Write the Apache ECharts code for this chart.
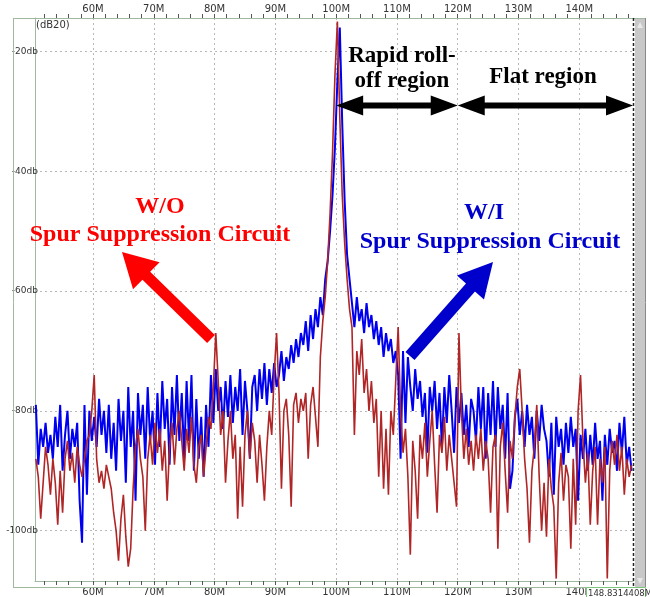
<!DOCTYPE html>
<html>
<head>
<meta charset="utf-8">
<script src="https://cdn.jsdelivr.net/npm/echarts@6/dist/echarts.min.js"></script>
<style>
  html, body { margin: 0; padding: 0; background: #fff; }
  #chart { width: 650px; height: 597px; }
</style>
</head>
<body>
<div id="chart"></div>
<script>
// spectrum bins, MHz (uniform FFT grid)
const freqStart = 50.6;
const freqStep = 0.4;

const xMin = 50.46;
const xMax = 148.83;
const yMin = -108.4;
const yMax = -14.4;

const majorTicks = [60, 70, 80, 90, 100, 110, 120, 130, 140];
const minorTicks = [52, 54, 56, 58, 60, 62, 64, 66, 68, 70, 72, 74, 76, 78, 80, 82, 84, 86, 88, 90,
  92, 94, 96, 98, 100, 102, 104, 106, 108, 110, 112, 114, 116, 118, 120, 122, 124, 126, 128, 130,
  132, 134, 136, 138, 140, 142, 144, 146, 148];
const yTicks = [-20, -40, -60, -80, -100];

// W/I spur suppression circuit (blue), dB
const withDb = [
  -79, -89, -83, -86, -82, -87, -84, -88, -81, -86,   // 50.6
  -79, -90, -84, -80, -88, -83, -86, -82, -95, -102,  // 54.6
  -79, -94, -80, -85, -81, -86, -78, -84, -80, -87,   // 58.6
  -79, -88, -82, -90, -78, -85, -80, -92, -76, -86,   // 62.6
  -80, -95, -77, -84, -79, -88, -76, -85, -80, -89,   // 66.6
  -77, -86, -75, -83, -78, -89, -76, -84, -74, -85,   // 70.6
  -77, -88, -75, -85, -74, -90, -78, -88, -81, -91,   // 74.6
  -79, -86, -74, -82, -73, -80, -76, -83, -75, -81,   // 78.6
  -74, -82, -76, -80, -73, -84, -75, -80, -88, -76,   // 82.6
  -74, -80, -73, -78, -72, -79, -73, -77, -72, -76,   // 86.6
  -74, -70, -75, -71, -73, -69, -72, -68, -71, -67,   // 90.6
  -69, -65, -70, -64, -68, -63, -66, -61, -64, -58,   // 94.6
  -55, -50, -44, -36, -25, -16, -32, -45, -54, -58,   // 98.6
  -62, -66, -61, -65, -63, -67, -62, -66, -64, -68,   // 102.6
  -65, -69, -66, -71, -67, -70, -68, -72, -70, -74,   // 106.6
  -88, -70, -82, -71, -76, -80, -73, -78, -75, -81,   // 110.6
  -77, -87, -76, -80, -75, -83, -77, -86, -76, -82,   // 114.6
  -74, -80, -87, -76, -82, -77, -84, -79, -86, -78,   // 118.6
  -80, -85, -76, -83, -76, -88, -77, -84, -75, -86,   // 122.6
  -76, -83, -79, -88, -77, -93, -90, -81, -78, -84,   // 126.6
  -80, -86, -79, -84, -81, -88, -80, -85, -79, -83,   // 130.6
  -85, -91, -82, -94, -81, -86, -83, -89, -82, -87,   // 134.6
  -81, -86, -83, -95, -84, -88, -83, -90, -84, -89,   // 138.6
  -82, -88, -85, -95, -84, -89, -83, -87, -85, -90,   // 142.6
  -82, -87, -81, -89, -86, -90                        // 146.6
];

// W/O spur suppression circuit (red), dB
const withoutDb = [
  -88, -91, -98, -92, -86, -89, -94, -88, -92, -99,   // 50.6
  -90, -97, -88, -85, -90, -87, -92, -86, -89, -91,   // 54.6
  -88, -85, -84, -80, -74, -88, -92, -90, -93, -89,   // 58.6
  -91, -93, -97, -100, -105, -98, -94, -101, -106, -103, // 62.6
  -93, -86, -83, -88, -91, -100, -88, -84, -89, -82,  // 66.6
  -87, -83, -90, -85, -95, -86, -82, -89, -83, -80,   // 70.6
  -85, -90, -83, -87, -81, -89, -92, -86, -84, -91,   // 74.6
  -86, -81, -83, -76, -67, -75, -84, -80, -92, -85,   // 78.6
  -80, -88, -84, -98, -86, -96, -84, -80, -88, -82,   // 82.6
  -85, -92, -84, -89, -95, -86, -80, -84, -74, -67,   // 86.6
  -77, -93, -80, -78, -84, -96, -79, -77, -82, -78,   // 90.6
  -80, -77, -88, -79, -76, -81, -86, -71, -65, -61,   // 94.6
  -55, -47, -37, -24, -15, -31, -44, -52, -58, -63,   // 98.6
  -66, -84, -70, -74, -68, -77, -73, -80, -75, -82,   // 102.6
  -78, -91, -80, -93, -83, -94, -80, -84, -75, -66,   // 106.6
  -80, -87, -83, -91, -104, -85, -90, -98, -84, -88,  // 110.6
  -82, -91, -85, -80, -89, -97, -84, -87, -81, -90,   // 114.6
  -84, -88, -92, -96, -67, -80, -88, -83, -89, -85,   // 118.6
  -90, -84, -88, -83, -90, -85, -88, -97, -86, -84,   // 122.6
  -103, -86, -82, -90, -97, -85, -88, -81, -76, -73,  // 126.6
  -80, -88, -93, -102, -90, -86, -79, -91, -100, -92, // 130.6
  -101, -88, -93, -96, -108, -92, -87, -95, -89, -91, // 134.6
  -103, -88, -99, -80, -74, -85, -92, -87, -99, -90,  // 138.6
  -86, -99, -88, -92, -86, -108, -90, -85, -89, -84,  // 142.6
  -90, -86, -94, -88, -91, -89                        // 146.6
];

const frameColor = '#9fb89f';
const gridColor = '#b8b8b8';
const labelFont = { fontSize: 10, color: '#333', fontFamily: 'DejaVu Sans' };

const freqs = withDb.map((_, i) => +(freqStart + i * freqStep).toFixed(1));

function pairs(values) {
  return values.map((v, i) => [freqs[i], v]);
}

function edgeAxis(position, margin) {
  return {
    type: 'value',
    position: position,
    min: xMin,
    max: xMax,
    axisLine: { show: true, lineStyle: { color: frameColor, width: 1 } },
    axisTick: { show: true, customValues: minorTicks, length: 4, lineStyle: { color: '#555' } },
    axisLabel: Object.assign({ customValues: majorTicks, margin: margin, formatter: (v) => v + 'M' }, labelFont),
    splitLine: { show: false },
  };
}

const chart = echarts.init(document.getElementById('chart'));

const option = {
  animation: false,
  backgroundColor: '#fff',
  grid: { left: 35, right: 17, top: 18, bottom: 10 },
  xAxis: [
    edgeAxis('bottom', 6),
    edgeAxis('top', 4),
    {
      // only carries the dotted vertical grid lines
      type: 'value',
      min: xMin,
      max: xMax,
      axisLine: { show: false },
      axisTick: { show: false, customValues: majorTicks },
      axisLabel: { show: false },
      splitLine: { show: true, lineStyle: { color: gridColor, type: [2, 3] } },
    },
  ],
  yAxis: {
    type: 'value',
    min: yMin,
    max: yMax,
    axisLine: { show: true, lineStyle: { color: frameColor } },
    axisTick: { show: false, customValues: yTicks },
    axisLabel: Object.assign({}, labelFont, {
      customValues: yTicks, margin: -3, fontSize: 9, formatter: (v) => v + 'db',
    }),
    splitLine: { show: true, lineStyle: { color: gridColor, type: [2, 3] } },
  },
  series: [
    {
      name: 'W/I',
      type: 'line',
      showSymbol: false,
      data: pairs(withDb),
      lineStyle: { color: '#0000f0', width: 2 },
      z: 2,
    },
    {
      name: 'W/O',
      type: 'line',
      showSymbol: false,
      data: pairs(withoutDb),
      lineStyle: { color: '#b02525', width: 1.6 },
      z: 3,
    },
  ],
};

chart.setOption(option);

// ---- annotations ----
function arrowPoints(x1, y1, x2, y2, shaft, headW, headL) {
  const dx = x2 - x1, dy = y2 - y1;
  const len = Math.hypot(dx, dy);
  const ux = dx / len, uy = dy / len;
  const nx = -uy, ny = ux;
  const bx = x2 - ux * headL, by = y2 - uy * headL;
  return [
    [x1 + nx * shaft / 2, y1 + ny * shaft / 2],
    [bx + nx * shaft / 2, by + ny * shaft / 2],
    [bx + nx * headW / 2, by + ny * headW / 2],
    [x2, y2],
    [bx - nx * headW / 2, by - ny * headW / 2],
    [bx - nx * shaft / 2, by - ny * shaft / 2],
    [x1 - nx * shaft / 2, y1 - ny * shaft / 2],
  ];
}

function doubleArrow(xa, xb, y) {
  const s = 6, hw = 20, hl = 27;
  return [
    [xa, y], [xa + hl, y - hw / 2], [xa + hl, y - s / 2], [xb - hl, y - s / 2], [xb - hl, y - hw / 2],
    [xb, y], [xb - hl, y + hw / 2], [xb - hl, y + s / 2], [xa + hl, y + s / 2], [xa + hl, y + hw / 2],
  ];
}

const regionDb = -29;
const p100 = chart.convertToPixel({ gridIndex: 0 }, [100, regionDb]);
const p120 = chart.convertToPixel({ gridIndex: 0 }, [120, regionDb]);
const pEnd = chart.convertToPixel({ gridIndex: 0 }, [xMax, regionDb]);

const serif = 'bold 23px "Liberation Serif", "Times New Roman", serif';
const serifBig = 'bold 24px "Liberation Serif", "Times New Roman", serif';

function label(text, x, y, color, font) {
  return {
    type: 'text', z: 100, x: x, y: y,
    style: { text: text, font: font || serif, fill: color, align: 'center', verticalAlign: 'middle' },
  };
}

function hline(x1, x2, y, color) {
  return { type: 'line', z: 50, shape: { x1: x1, y1: y, x2: x2, y2: y }, style: { stroke: color, lineWidth: 1 } };
}
function vline(x, y1, y2, color, dash) {
  return {
    type: 'line', z: 50, shape: { x1: x, y1: y1, x2: x, y2: y2 },
    style: { stroke: color, lineWidth: dash ? 1.5 : 1, lineDash: dash || null },
  };
}

const graphics = [
  // outer frame
  vline(13.5, 18, 587, frameColor),
  hline(13, 645, 18.5, frameColor),
  hline(13, 645, 587.5, frameColor),
  // scroll bar at right
  { type: 'rect', z: 40, shape: { x: 635, y: 19, width: 10, height: 568 }, style: { fill: '#c8c8c8' } },
  { type: 'polygon', z: 41, shape: { points: [[637, 28], [643, 28], [640, 22]] }, style: { fill: '#e8e8e8' } },
  { type: 'polygon', z: 41, shape: { points: [[637, 578], [643, 578], [640, 584]] }, style: { fill: '#e8e8e8' } },
  vline(633.5, 18, 587, '#222', [3, 2]),
  vline(645.5, 18, 587, '#888'),
  // unit label
  {
    type: 'text', z: 60, x: 36, y: 20,
    style: { text: '(dB20)', font: '10px "DejaVu Sans"', fill: '#333' },
  },
  // marker readout box
  {
    type: 'rect', z: 60, shape: { x: 586.5, y: 587.5, width: 59, height: 12 },
    style: { fill: '#fff', stroke: '#7cc47c', lineWidth: 1 },
  },
  {
    type: 'text', z: 61, x: 588, y: 589,
    style: { text: '148.8314408M', font: '8.5px "DejaVu Sans"', fill: '#333' },
  },
  // region arrows
  { type: 'polygon', z: 100, shape: { points: doubleArrow(p100[0], p120[0], p100[1]) }, style: { fill: '#000' } },
  { type: 'polygon', z: 100, shape: { points: doubleArrow(p120[0], pEnd[0], p100[1]) }, style: { fill: '#000' } },
  label('Rapid roll-', 402, 56, '#000'),
  label('off region', 402, 81, '#000'),
  label('Flat region', 543, 77, '#000'),
  // W/O annotation
  label('W/O', 160, 207, '#ff0000', serifBig),
  label('Spur Suppression Circuit', 160, 235, '#ff0000', serifBig),
  { type: 'polygon', z: 100, shape: { points: arrowPoints(211, 339, 122, 252, 11, 38, 34) }, style: { fill: '#ff0000' } },
  // W/I annotation
  label('W/I', 484, 213, '#0000cc', serifBig),
  label('Spur Suppression Circuit', 490, 242, '#0000cc', serifBig),
  { type: 'polygon', z: 100, shape: { points: arrowPoints(410, 356, 493, 262, 12, 36, 34) }, style: { fill: '#0000cc' } },
];

chart.setOption({ graphic: graphics });
</script>
</body>
</html>
